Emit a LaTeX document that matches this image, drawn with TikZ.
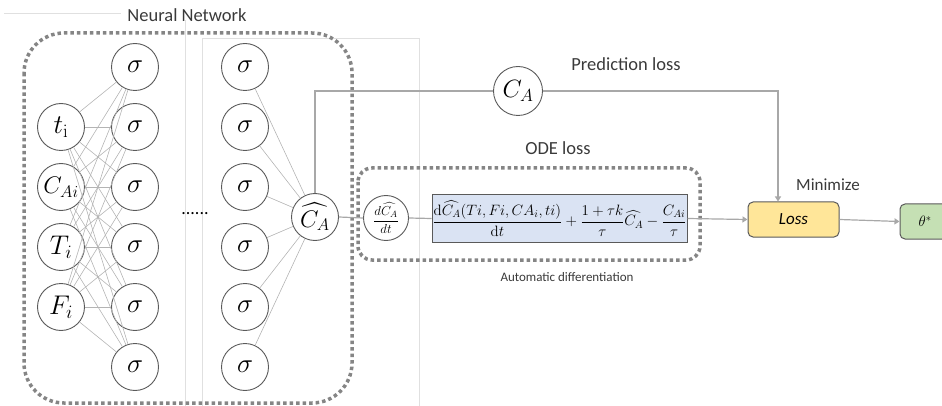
\documentclass[tikz,border=0pt]{standalone}
\usepackage{amsmath}
\usepackage{fix-cm}
\usepackage[no-math]{fontspec}
\setmainfont{Carlito}
\usetikzlibrary{arrows.meta}
\definecolor{wiregray}{HTML}{B4B4B4}
\definecolor{flowgray}{HTML}{A8A8A8}
\definecolor{dotgray}{HTML}{858585}
\definecolor{ringgray}{HTML}{5A5A5A}
\definecolor{inkgray}{HTML}{3A3A3A}
\definecolor{odeblue}{HTML}{DAE3F3}
\definecolor{lossyellow}{HTML}{FFE699}
\definecolor{thetagreen}{HTML}{C5E0B4}
\begin{document}
\begin{tikzpicture}[x=1pt,y=-1pt,
  neuron/.style={circle,draw=ringgray,line width=0.9pt,minimum size=47pt,inner sep=0pt,fill=white,text=black,font=\fontsize{27}{30}\selectfont},
  wire/.style={draw=wiregray,line width=0.6pt},
  flow/.style={draw=flowgray,line width=1.2pt},
  flowarrow/.style={flow,-{Triangle[width=6pt,length=5pt]}},
  dotbox/.style={draw=dotgray,line width=3.5pt,dash pattern=on 3.5pt off 3pt},
  framing/.style={draw=black!12,line width=0.5pt},
  label/.style={text=inkgray,font=\fontsize{18.5}{22}\selectfont,inner sep=0pt},
  smalllabel/.style={text=inkgray,font=\fontsize{13}{15}\selectfont,inner sep=0pt},
  panel/.style={draw=ringgray,line width=1pt,inner sep=0pt}
]
\useasboundingbox (0,0) rectangle (942,406);

% faint frame lines behind the network
\draw[framing] (4,13) -- (121,13);
\draw[framing] (185,20) -- (185,406);
\draw[framing] (202,406) -- (202,38) -- (419,38) -- (419,406);

% network nodes
\node[neuron] (in1) at (61,127) {$t_{\mathrm{i}}$};
\node[neuron,font=\fontsize{24}{27}\selectfont] (in2) at (61,187) {$C_{Ai}$};
\node[neuron] (in3) at (61,247) {$T_i$};
\node[neuron] (in4) at (61,307) {$F_i$};
\foreach \k in {1,...,6}{
  \node[neuron] (h\k) at (135,{67+60*(\k-1)}) {$\sigma$};
  \node[neuron] (l\k) at (245,{67+60*(\k-1)}) {$\sigma$};
}
\node[neuron,font=\fontsize{24}{27}\selectfont] (out) at (315,217) {$\widehat{C_A}$};

% fully connected wiring
\foreach \i in {1,...,4}{
  \foreach \j in {1,...,6}{
    \draw[wire] (in\i) -- (h\j);
  }
}
\foreach \j in {1,...,6}{
  \draw[wire] (l\j) -- (out);
}

\node[text=black,font=\fontsize{18}{20}\selectfont,inner sep=0pt] (gap) at (195,214) {......};

% network boundary
\draw[dotbox,rounded corners=40pt] (24,33) rectangle (352,403);
\node[label] (nn) at (187,15) {Neural Network};

% prediction loss branch
\node[neuron,minimum size=49pt,font=\fontsize{25}{28}\selectfont] (ca) at (518,91) {$C_A$};
\coordinate (pcorner) at (778,91);

% ODE loss branch
\draw[dotbox,rounded corners=14pt] (358,168) rectangle (700,260);
\node[neuron,minimum size=45pt,font=\fontsize{13}{15}\selectfont] (ddt) at (386,218) {$\dfrac{d\widehat{C_A}}{dt}$};
\node[panel,fill=odeblue,minimum width=255pt,minimum height=47pt,font=\fontsize{15}{17}\selectfont] (ode) at (559.5,218.5)
  {$\dfrac{\mathrm{d}\widehat{C_A}(Ti,Fi,CA_i,ti)}{\mathrm{d}t}+\dfrac{1+\tau k}{\tau}\widehat{C_A}-\dfrac{C_{Ai}}{\tau}$};
\node[label] (odel) at (558,148) {ODE loss};
\node[smalllabel] (auto) at (567,277) {Automatic differentiation};

% loss and result
\node[panel,fill=lossyellow,rounded corners=5pt,minimum width=91pt,minimum height=35pt,font=\fontsize{17}{20}\selectfont\itshape] (loss) at (793.5,219.5) {Loss};
\node[panel,fill=thetagreen,rounded corners=5pt,minimum width=50pt,minimum height=35pt,font=\fontsize{15}{17}\selectfont] (theta) at (925,221.5) {$\theta^{*}$};
\node[label,font=\fontsize{17}{20}\selectfont] (mini) at (828,185) {Minimize};
\node[label] (pred) at (626,64) {Prediction loss};

% connectors
\draw[flow] (out.north) |- (ca.west);
\draw[flowarrow] (ca.east) -- (pcorner) -- (pcorner |- loss.north);
\draw[flow] (out.east) -- (ddt.west);
\draw[flow] (ddt.east) -- (ode.west);
\draw[flowarrow] (ode.east) -- (loss.west);
\draw[flowarrow] (loss.east) -- (theta.west);
\end{tikzpicture}
\end{document}
